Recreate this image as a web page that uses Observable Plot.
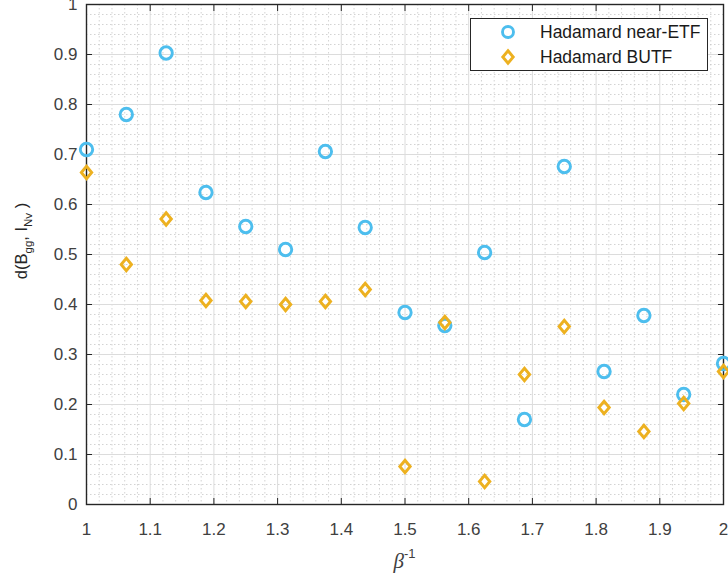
<!DOCTYPE html>
<html><head><meta charset="utf-8">
<script src="https://cdn.jsdelivr.net/npm/d3@7"></script>
<script src="https://cdn.jsdelivr.net/npm/@observablehq/plot@0.6"></script>
<style>
html,body{margin:0;padding:0;background:#fff;}
#chart{position:relative;width:728px;height:578px;overflow:hidden;}
#chart svg{display:block;}
</style></head><body><div id="chart"></div>
<script>
// ---- data ----
const betaInv = [1, 1.0625, 1.125, 1.1875, 1.25, 1.3125, 1.375, 1.4375, 1.5, 1.5625, 1.625, 1.6875, 1.75, 1.8125, 1.875, 1.9375, 2];
const nearETF = [0.710, 0.780, 0.903, 0.624, 0.556, 0.510, 0.706, 0.554, 0.384, 0.358, 0.504, 0.170, 0.676, 0.266, 0.378, 0.220, 0.282];
const butf    = [0.664, 0.480, 0.571, 0.408, 0.406, 0.400, 0.406, 0.430, 0.076, 0.364, 0.046, 0.260, 0.356, 0.194, 0.146, 0.202, 0.266];
const seriesNames = ["Hadamard near-ETF", "Hadamard BUTF"];
const seriesColors = ["#4DBEEE", "#EDB120"];
const xTicks = [1, 1.1, 1.2, 1.3, 1.4, 1.5, 1.6, 1.7, 1.8, 1.9, 2];
const yTicks = [0, 0.1, 0.2, 0.3, 0.4, 0.5, 0.6, 0.7, 0.8, 0.9, 1];

// ---- derived ----
const rowsA = betaInv.map((x, i) => ({x, y: nearETF[i]}));
const rowsB = betaInv.map((x, i) => ({x, y: butf[i]}));
const minorX = d3.range(51).filter(i => i % 5 !== 0).map(i => 1 + i * 0.02);
const minorY = d3.range(51).filter(i => i % 5 !== 0).map(i => i * 0.02);

// MATLAB-like diamond (slightly taller than wide)
const matDiamond = {
  draw(ctx, size) {
    const r = Math.sqrt(size / Math.PI);
    const h = r * 1.2, w = r * 1.0;
    ctx.moveTo(0, -h); ctx.lineTo(w, 0); ctx.lineTo(0, h); ctx.lineTo(-w, 0); ctx.closePath();
  }
};

const axisColor = "#262626";
const font = "'Liberation Sans', Arial, Helvetica, sans-serif";

const plot = Plot.plot({
  width: 728, height: 578,
  marginLeft: 86, marginRight: 5, marginTop: 4, marginBottom: 74,
  x: {domain: [1, 2]},
  y: {domain: [0, 1]},
  style: {fontFamily: font, fontSize: "17px", color: axisColor, background: "white", overflow: "visible"},
  marks: [
    Plot.ruleX(minorX, {x: d => d, stroke: "#c8c8c8", strokeWidth: 0.8, strokeDasharray: "1.5,2.5"}),
    Plot.ruleY(minorY, {y: d => d, stroke: "#c8c8c8", strokeWidth: 0.8, strokeDasharray: "1.5,2.5"}),
    Plot.ruleX(xTicks, {x: d => d, stroke: "#dcdcdc", strokeWidth: 1}),
    Plot.ruleY(yTicks, {y: d => d, stroke: "#dcdcdc", strokeWidth: 1}),
    Plot.axisX(xTicks, {anchor: "bottom", tickSize: -6, tickPadding: 24, label: null, tickFormat: d => String(d), stroke: axisColor, fill: "#404040"}),
    Plot.axisX(xTicks, {anchor: "top", tickSize: -6, label: null, tickFormat: () => "", stroke: axisColor}),
    Plot.axisY(yTicks, {anchor: "left", tickSize: -6, tickPadding: 15, label: null, tickFormat: d => String(d), stroke: axisColor, fill: "#404040"}),
    Plot.axisY(yTicks, {anchor: "right", tickSize: -6, label: null, tickFormat: () => "", stroke: axisColor}),
    Plot.frame({stroke: axisColor, strokeWidth: 1.4}),
    Plot.dot(rowsA, {x: "x", y: "y", r: 6.2, stroke: seriesColors[0], strokeWidth: 2.9, fill: "none"}),
    Plot.dot(rowsB, {x: "x", y: "y", symbol: matDiamond, r: 5.2, stroke: seriesColors[1], strokeWidth: 2.9, fill: "none"})
  ]
});
document.getElementById("chart").appendChild(plot);

const svg = d3.select(plot);
const xs = plot.scale("x"), ys = plot.scale("y");
const cx = (xs.apply(1) + xs.apply(2)) / 2;

// x label: beta^-1
const xl = svg.append("text")
  .attr("x", cx).attr("y", 568)
  .attr("text-anchor", "middle")
  .attr("fill", "#404040");
xl.append("tspan").attr("font-family", "'Liberation Serif', 'DejaVu Serif', serif").attr("font-style", "italic").attr("font-size", 21).text("β");
xl.append("tspan").attr("font-family", font).attr("font-size", 13).attr("dy", -10).text("-1");

// y label: d(B_gg, I_Nv )
const yl = svg.append("text")
  .attr("transform", `translate(27,${(ys.apply(0) + ys.apply(1)) / 2 - 13}) rotate(-90)`)
  .attr("text-anchor", "middle")
  .attr("font-family", font).attr("font-size", 16.5).attr("fill", "#262626");
yl.append("tspan").text("d(B");
yl.append("tspan").attr("font-size", 11.5).attr("dy", 5).text("gg");
yl.append("tspan").attr("dy", -5).text(", I");
yl.append("tspan").attr("font-size", 11.5).attr("dy", 5).text("Nv");
yl.append("tspan").attr("dy", -5).text(" )");

// legend
const lg = svg.append("g").attr("font-family", font).attr("font-size", 17.5).attr("fill", "#1a1a1a").attr("text-anchor", "start");
lg.append("rect").attr("x", 470.5).attr("y", 18.5).attr("width", 237).attr("height", 52)
  .attr("fill", "white").attr("stroke", axisColor).attr("stroke-width", 1);
seriesNames.forEach((name, i) => {
  const yy = 32 + i * 25;
  if (i === 0) {
    lg.append("circle").attr("cx", 508).attr("cy", yy).attr("r", 5.5)
      .attr("fill", "none").attr("stroke", seriesColors[0]).attr("stroke-width", 2.9);
  } else {
    lg.append("path").attr("transform", `translate(508,${yy})`)
      .attr("d", d3.symbol(matDiamond, Math.PI * 5.2 * 5.2)())
      .attr("fill", "none").attr("stroke", seriesColors[1]).attr("stroke-width", 2.9);
  }
  lg.append("text").attr("x", 540).attr("y", yy).attr("dy", "0.35em").text(name);
});
</script>
</body></html>
